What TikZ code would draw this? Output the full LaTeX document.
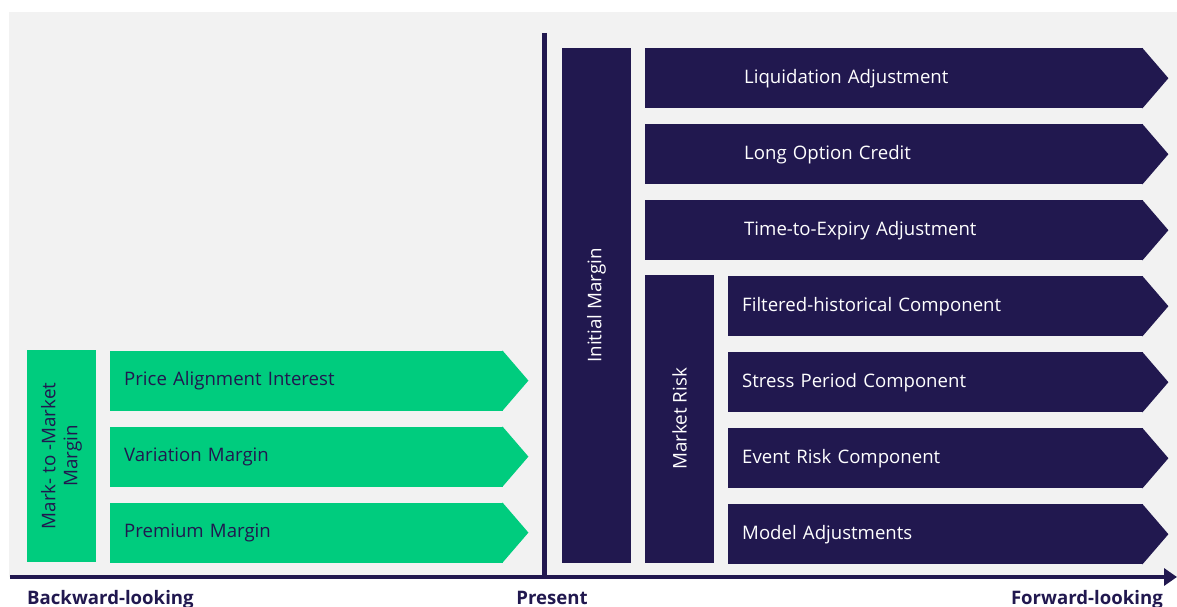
\documentclass[tikz,border=0pt]{standalone}
\usepackage{fontspec}
\setmainfont{Open Sans}
\usetikzlibrary{arrows.meta,positioning}
\definecolor{navy}{HTML}{21184F}
\definecolor{mint}{HTML}{00CC7E}
\definecolor{paper}{HTML}{F2F2F2}

\begin{document}
\begin{tikzpicture}[x=1pt,y=-1pt,node distance=15.6pt,
	lane/.style={rectangle,minimum height=60pt,inner ysep=0pt,align=left,font=\fontsize{18.6}{22}\selectfont},
	top lane/.style={lane,fill=navy,text=white,inner xsep=99pt,text width=300pt},
	risk lane/.style={lane,fill=navy,text=white,inner xsep=14pt,text width=387pt},
	green lane/.style={lane,fill=mint,text=navy,inner xsep=14pt,text width=365pt},
	side box/.style={rectangle,rotate=90,minimum height=69pt,inner sep=0pt,align=center,font=\fontsize{18.8}{22}\selectfont},
	time label/.style={text=navy,inner sep=0pt,font=\fontsize{18.6}{22}\selectfont\bfseries}]

	\useasboundingbox (0,0) rectangle (1177,607);
	\fill[paper] (9,12) rectangle (1177,577);

	% forward-looking side
	\node[top lane,anchor=north west] (liq) at (645,48) {Liquidation Adjustment};
	\node[top lane] (loc) [below=of liq] {Long Option Credit};
	\node[top lane] (tte) [below=of loc] {Time-to-Expiry Adjustment};
	\node[risk lane] (fhc) [below=of tte.south east,anchor=north east] {Filtered-historical Component};
	\node[risk lane] (spc) [below=of fhc] {Stress Period Component};
	\node[risk lane] (erc) [below=of spc] {Event Risk Component};
	\node[risk lane] (mad) [below=of erc] {Model Adjustments};

	\node[side box,fill=navy,text=white,minimum width=515pt] (im) at (596.5,305.5) {Initial Margin};
	\node[side box,fill=navy,text=white,minimum width=288pt] (mr) at (679.5,419) {Market Risk};

	% backward-looking side
	\node[green lane,anchor=north west] (pai) at (110,350.4) {Price Alignment Interest};
	\node[green lane] (vm) [below=of pai] {Variation Margin};
	\node[green lane] (pm) [below=of vm] {Premium Margin};

	\node[side box,fill=mint,text=navy,minimum width=212pt] (mtm) at (61.5,456) {Mark- to -Market\\Margin};

	% chevron tips
	\foreach \n in {liq,loc,tte,fhc,spc,erc,mad}
		\fill[navy] ([xshift=-1pt]\n.north east) -- ([xshift=25pt]\n.east) -- ([xshift=-1pt]\n.south east) -- cycle;
	\foreach \n in {pai,vm,pm}
		\fill[mint] ([xshift=-1pt]\n.north east) -- ([xshift=25pt]\n.east) -- ([xshift=-1pt]\n.south east) -- cycle;

	% time axis
	\coordinate (past) at (10,577);
	\coordinate (future) at (1177,577);
	\coordinate (now top) at (544.5,33);
	\coordinate (now) at (544.5,577);
	\draw[navy,line width=5pt] (now top) -- (now);
	\draw[navy,line width=4.5pt,-{Triangle[length=13pt,width=17pt]}] (past) -- (future);

	\node[time label,anchor=base west] (back) at (27,604) {Backward-looking};
	\node[time label,anchor=base] (pres) at (552,604) {Present};
	\node[time label,anchor=base east] (fwd) at (1163,604) {Forward-looking};
\end{tikzpicture}
\end{document}
